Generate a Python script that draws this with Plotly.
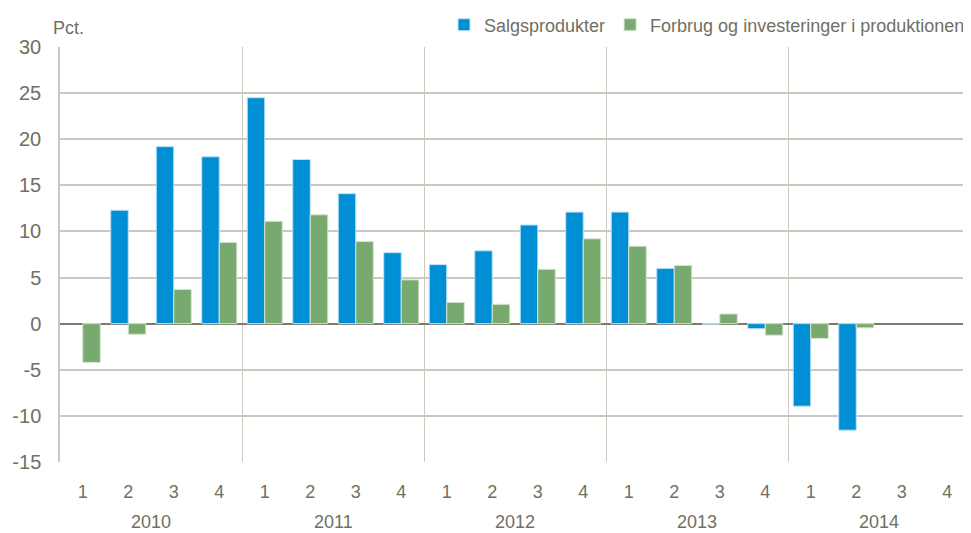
import plotly.graph_objects as go

years = ["2010", "2011", "2012", "2013", "2014"]
quarters = ["1", "2", "3", "4"]
salg = [None, 12.3, 19.2, 18.1, 24.5, 17.8, 14.1, 7.7, 6.4, 7.9, 10.7, 12.1,
        12.1, 6.0, -0.05, -0.55, -8.95, -11.55, None, None]
forbrug = [-4.2, -1.15, 3.7, 8.8, 11.1, 11.8, 8.9, 4.75, 2.3, 2.1, 5.9, 9.2,
           8.4, 6.3, 1.05, -1.25, -1.6, -0.45, None, None]
yticks = [-15, -10, -5, 0, 5, 10, 15, 20, 25, 30]
yticklabels = ["-15", "-10", "-5", "0", "5", "10", "15", "20", "25", "30"]

n = len(years) * len(quarters)
xpos = list(range(n))
qlabels = [q for y in years for q in quarters]

txt = "#707062"
grid = "#c9c9bf"
font = "Liberation Sans, Arial, sans-serif"

fig = go.Figure()
fig.add_trace(go.Bar(x=xpos, y=salg, name="Salgsprodukter",
                     marker=dict(color="#008fd5", line=dict(color="#bfe3f5", width=1))))
fig.add_trace(go.Bar(x=xpos, y=forbrug, name="Forbrug og investeringer i produktionen",
                     marker=dict(color="#78a96f", line=dict(color="#d3e6cf", width=1))))

year_bounds = [i * len(quarters) - 0.5 for i in range(1, len(years))]

fig.update_layout(
    width=963, height=525,
    margin=dict(l=52, r=1, t=39, b=71, autoexpand=False),
    paper_bgcolor="white", plot_bgcolor="white",
    barmode="group", bargap=0.23, bargroupgap=0,
    font=dict(family=font, color=txt, size=17),
    showlegend=True,
    legend=dict(orientation="h", x=1.0, xanchor="right", y=1.053, yanchor="middle",
                font=dict(size=18, color=txt), traceorder="normal",
                bgcolor="rgba(0,0,0,0)"),
    xaxis=dict(range=[-0.5, n - 0.5], tickmode="array", tickvals=xpos, ticktext=qlabels,
               showgrid=False, zeroline=False, showline=False, ticks="",
               ticklabelstandoff=17, tickfont=dict(size=18, color=txt),
               minor=dict(tickmode="array", tickvals=year_bounds, showgrid=True,
                          gridcolor=grid, gridwidth=1, ticks="")),
    yaxis=dict(range=[-15, 30], tickmode="array", tickvals=yticks, ticktext=yticklabels,
               showgrid=True, gridcolor=grid, gridwidth=1.5, zeroline=True,
               zerolinecolor="#7d7a6b", zerolinewidth=2, showline=True, linecolor=grid,
               linewidth=1.5, ticks="", ticklabelstandoff=13,
               tickfont=dict(size=20, color=txt)),
)

for i, yr in enumerate(years):
    fig.add_annotation(x=i * len(quarters) + (len(quarters) - 1) / 2, y=0, xref="x", yref="paper",
                       yshift=-60, text=yr, showarrow=False, yanchor="middle",
                       font=dict(size=18, color=txt))

fig.add_annotation(x=-0.01, y=1.046, xref="paper", yref="paper", text="Pct.", showarrow=False,
                   xanchor="left", yanchor="middle", font=dict(size=18, color=txt))

fig.write_html("out.html")
